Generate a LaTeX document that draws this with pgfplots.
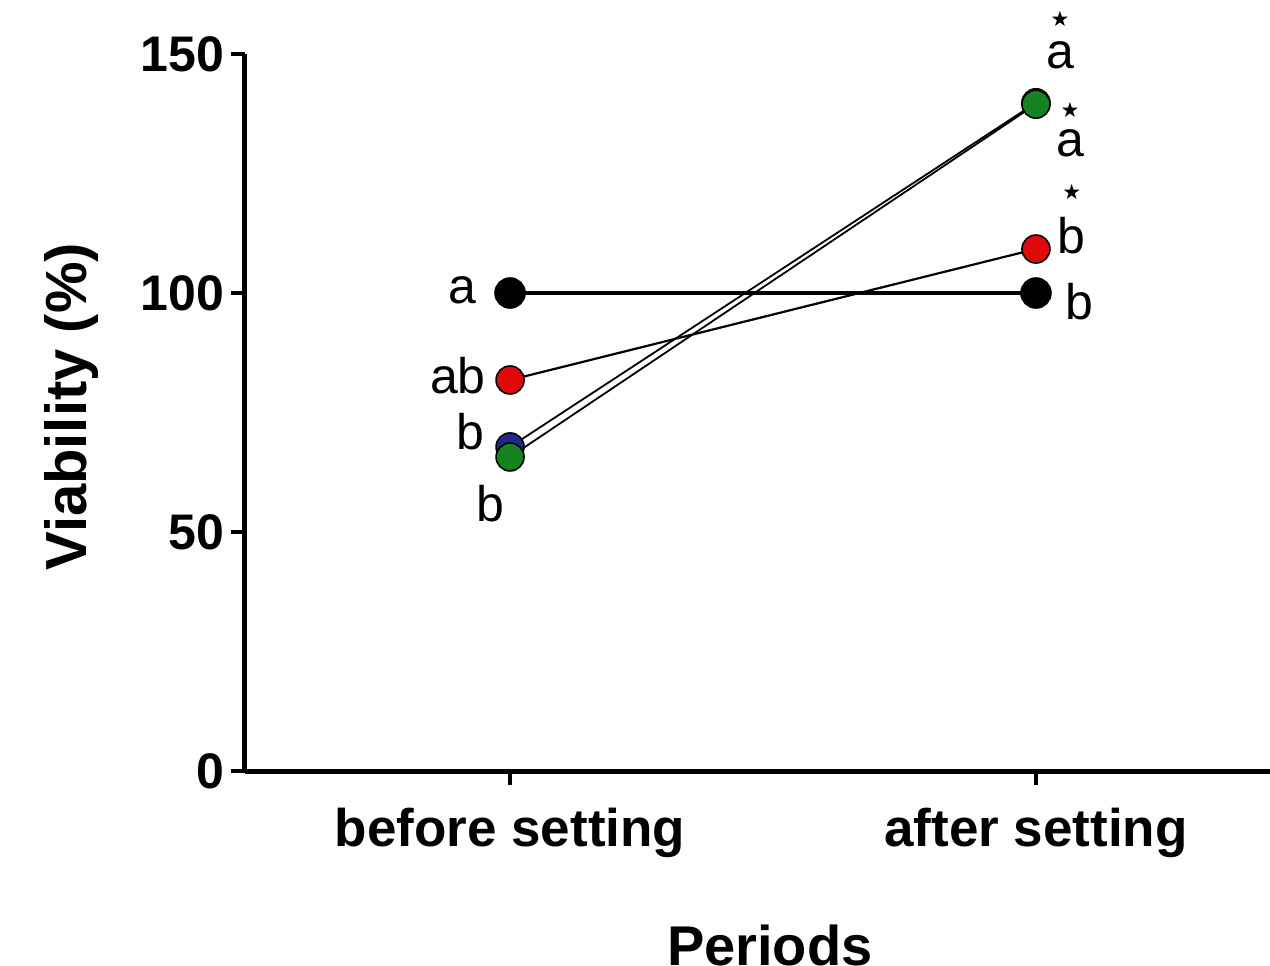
\documentclass[border=0pt]{standalone}
\usepackage{fontspec}
\setmainfont{Liberation Sans}
\newfontfamily\djv{DejaVu Sans}
\usepackage{pgfplots}
\pgfplotsset{compat=1.18}
\definecolor{ptred}{RGB}{225,10,10}
\definecolor{ptgreen}{RGB}{20,130,30}
\definecolor{ptblue}{RGB}{30,40,140}
\newcommand{\lbl}{\fontsize{25}{25}\selectfont}
\newcommand{\st}{{\djv\fontsize{10.5}{10.5}\selectfont ★}}
\begin{document}
\begin{tikzpicture}
\path[use as bounding box] (-122.5pt,-97pt) rectangle (512.5pt,385.5pt);
\clip (-122.5pt,-97pt) rectangle (512.5pt,385.5pt);
\begin{axis}[
 at={(0,0)}, anchor=south west,
 scale only axis, width=512.5pt, height=358.5pt,
 xmin=-0.504, xmax=1.445, ymin=0, ymax=150,
 axis x line=bottom, axis y line=left,
 axis line style={line width=2.5pt, -},
 xtick={0,1}, xticklabels={before setting, after setting},
 ytick={0,50,100,150},
 tick align=outside, major tick length=7pt,
 tick style={line width=2pt, black},
 tick label style={font=\fontsize{25}{25}\selectfont\bfseries},
 xticklabel style={font=\fontsize{26.5}{26.5}\selectfont\bfseries, yshift=-8pt},
 /pgf/number format/assume math mode=true,
 clip=false,
 xlabel={Periods},
 xlabel style={at={(axis description cs:0.512,0)}, anchor=center, yshift=-87pt, font=\fontsize{28}{28}\selectfont\bfseries},
 ylabel={Viability (\%)},
 ylabel style={at={(axis description cs:0,0.508)}, anchor=center, yshift=86.5pt, font=\fontsize{29}{29}\selectfont\bfseries},
]
\addplot[black, line width=1.8pt, mark=*, mark size=7pt, mark options={fill=black}] coordinates {(0,100) (1,100)};
\addplot[black, line width=1.1pt, mark=*, mark size=7pt, mark options={fill=ptred, draw=black, line width=0.8pt}] coordinates {(0,81.8) (1,109.2)};
\addplot[black, line width=0.9pt, mark=*, mark size=7pt, mark options={fill=ptblue, draw=black, line width=0.8pt}] coordinates {(0,67.8) (1,139.8)};
\addplot[black, line width=0.9pt, mark=*, mark size=7pt, mark options={fill=ptgreen, draw=black, line width=0.8pt}] coordinates {(0,65.7) (1,139.5)};
\node[font=\lbl] at (axis cs:-0.091,100.6) {a};
\node[font=\lbl] at (axis cs:-0.099,82.8) {ab};
\node[font=\lbl] at (axis cs:-0.076,70.9) {b};
\node[font=\lbl] at (axis cs:-0.038,56) {b};
\node[inner sep=0pt] at (axis cs:1.046,157.3) {\st};
\node[font=\lbl] at (axis cs:1.046,149.8) {a};
\node[inner sep=0pt] at (axis cs:1.065,138.3) {\st};
\node[font=\lbl] at (axis cs:1.065,131.4) {a};
\node[inner sep=0pt] at (axis cs:1.068,121.2) {\st};
\node[font=\lbl] at (axis cs:1.068,112.1) {b};
\node[font=\lbl] at (axis cs:1.083,98.1) {b};
\end{axis}
\end{tikzpicture}
\end{document}
